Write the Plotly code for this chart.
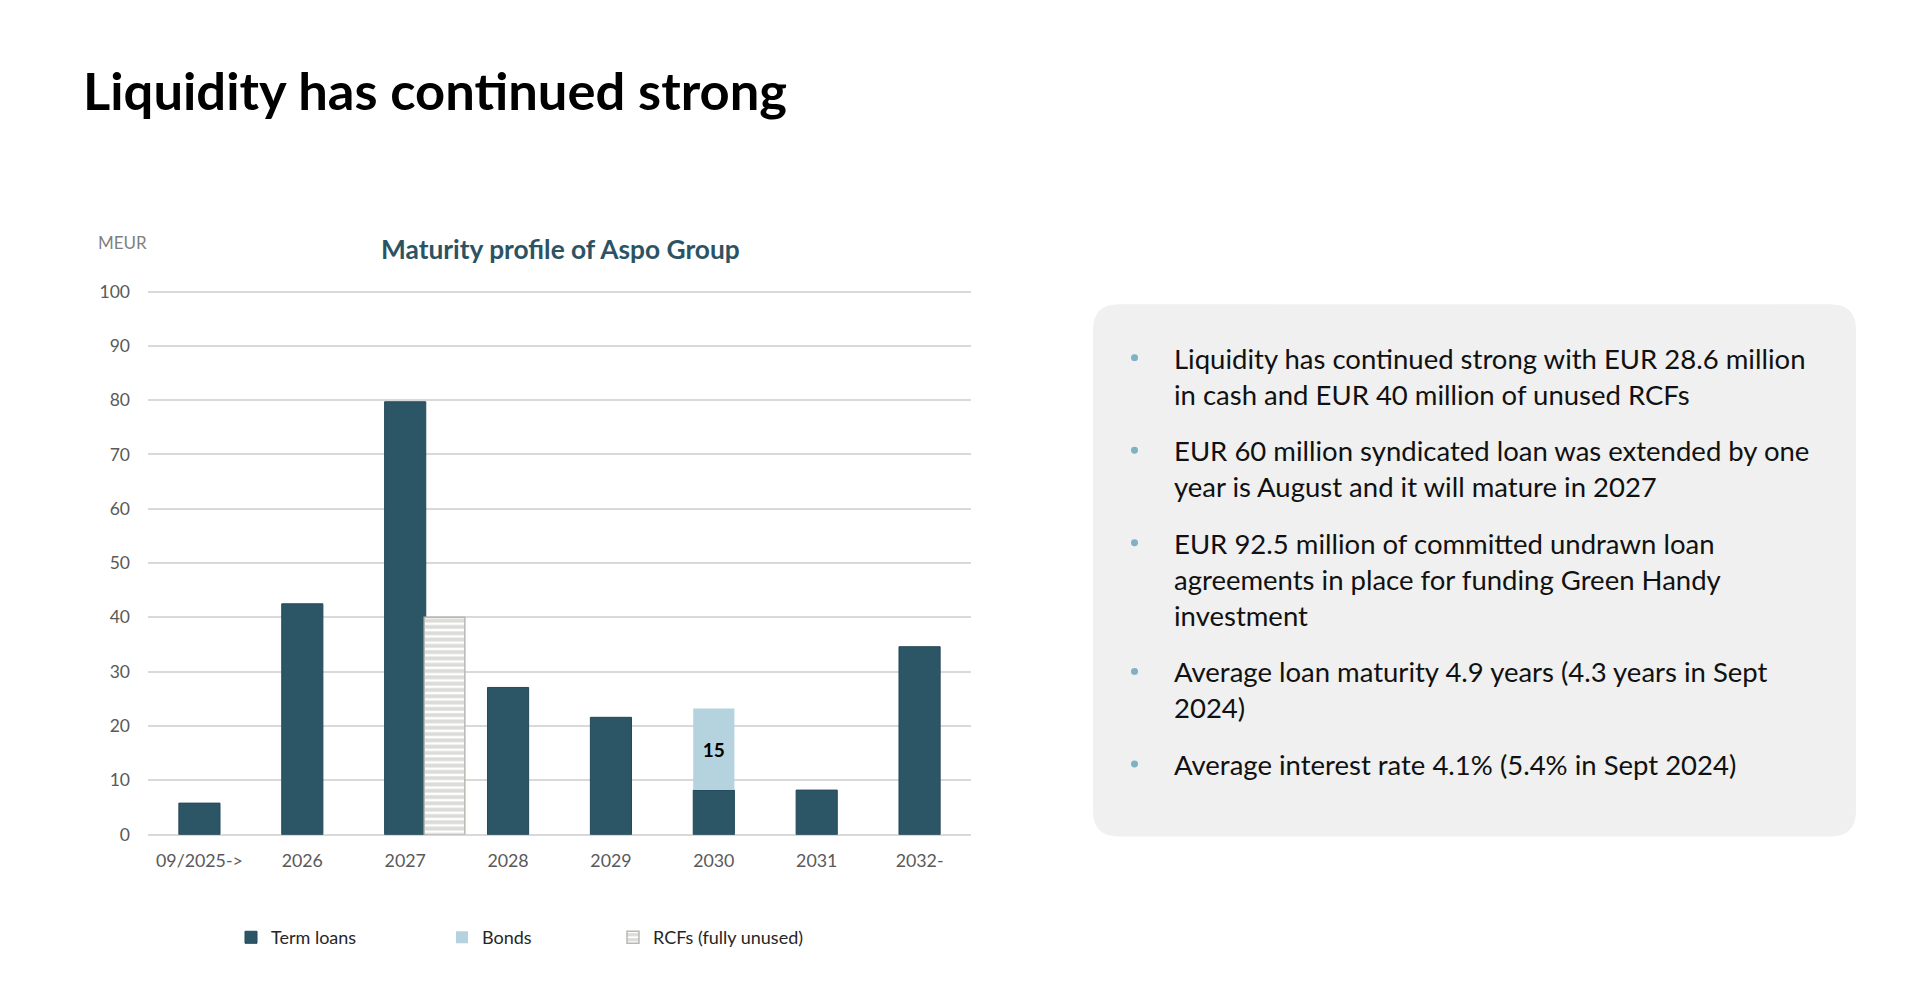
import plotly.graph_objects as go

# page is 1920x984, the html body keeps its default 8px margin
PAGE_W, PAGE_H, M = 1920, 984, 8
W, H = PAGE_W - 2 * M, PAGE_H - 2 * M

categories = ["09/2025->", "2026", "2027", "2028", "2029", "2030", "2031", "2032-"]
term_loans = [5.8, 42.5, 79.7, 27.1, 21.6, 8.2, 8.2, 34.6]
bonds = [None, None, None, None, None, 15, None, None]
rcfs = [None, None, 40, None, None, None, None, None]
y_ticks = list(range(0, 101, 10))

bullets = [
    ["Liquidity has continued strong with EUR 28.6 million",
     "in cash and EUR 40 million of unused RCFs"],
    ["EUR 60 million syndicated loan was extended by one",
     "year is August and it will mature in 2027"],
    ["EUR 92.5 million of committed undrawn loan",
     "agreements in place for funding Green Handy",
     "investment"],
    ["Average loan maturity 4.9 years (4.3 years in Sept",
     "2024)"],
    ["Average interest rate 4.1% (5.4% in Sept 2024)"],
]

FONT = "Lato"
DARK = "#2C5566"
LIGHT = "#B4D3DE"
HATCH = "#B8B8B3"
GREY_TXT = "#595959"


# page pixel -> paper coords
def px(x):
    return (x - M) / W


def py(y):
    return 1 - (y - M) / H


# plot area (page px)
PX0, PX1 = 148, 971
Y0, Y100, YMAX = 842.0, 288.0, 100.3
ytop = Y0 - YMAX * (Y0 - Y100) / 100

fig = go.Figure()

fig.add_trace(go.Bar(
    x=categories, y=term_loans, name="Term loans",
    offset=-0.2, width=0.4,
    marker=dict(color=DARK, line=dict(color="#24495A", width=1)),
    legend="legend",
))
fig.add_trace(go.Bar(
    x=categories, y=bonds, base=term_loans, name="Bonds",
    offset=-0.2, width=0.4,
    marker=dict(color=LIGHT, line=dict(color=LIGHT, width=0)),
    text=bonds, texttemplate="<b>%{text}</b>", textposition="inside",
    insidetextanchor="middle", textangle=0,
    textfont=dict(family=FONT, size=19, color="black"),
    legend="legend2",
))
fig.add_trace(go.Bar(
    x=categories, y=rcfs, name="RCFs (fully unused)",
    offset=0.185, width=0.395,
    marker=dict(color="white", line=dict(color=HATCH, width=1.5),
                pattern=dict(shape="-", fgcolor=HATCH, bgcolor="white",
                             size=6.3, solidity=0.62, fillmode="overlay")),
    legend="legend3",
))

# grey info box with rounded corners
x0, x1, y0, y1, r = 1093, 1856, 301, 844, 26
path = (f"M {px(x0 + r)} {py(y0)} L {px(x1 - r)} {py(y0)} "
        f"Q {px(x1)} {py(y0)} {px(x1)} {py(y0 + r)} "
        f"L {px(x1)} {py(y1 - r)} Q {px(x1)} {py(y1)} {px(x1 - r)} {py(y1)} "
        f"L {px(x0 + r)} {py(y1)} Q {px(x0)} {py(y1)} {px(x0)} {py(y1 - r)} "
        f"L {px(x0)} {py(y0 + r)} Q {px(x0)} {py(y0)} {px(x0 + r)} {py(y0)} Z")
fig.add_shape(type="path", path=path, xref="paper", yref="paper",
              fillcolor="#EFF0EF", line=dict(width=0), layer="below")

# bullet text
annotations = []
y = 356
line_step, bullet_gap = 36.8, 20.8
for lines in bullets:
    fig.add_shape(type="circle", xref="paper", yref="paper",
                  x0=px(1131), x1=px(1138), y0=py(y - 4), y1=py(y + 3),
                  fillcolor="#7FB0C4", line=dict(width=0))
    for ln in lines:
        annotations.append(dict(
            text=ln, x=px(1172), y=py(y), xref="paper", yref="paper",
            xanchor="left", yanchor="middle", showarrow=False,
            font=dict(family=FONT, size=27.5, color="#111111")))
        y += line_step
    y += bullet_gap

annotations += [
    dict(text="<b>Liquidity has continued strong</b>", x=px(80.5), y=py(82),
         xref="paper", yref="paper", xanchor="left", yanchor="middle",
         showarrow=False, font=dict(family=FONT, size=52.5, color="black")),
    dict(text="<b>Maturity profile of Aspo Group</b>", x=px(560), y=py(244.5),
         xref="paper", yref="paper", xanchor="center", yanchor="middle",
         showarrow=False, font=dict(family=FONT, size=26.3, color="#2C5364")),
    dict(text="MEUR", x=px(96), y=py(238.5), xref="paper", yref="paper",
         xanchor="left", yanchor="middle", showarrow=False,
         font=dict(family=FONT, size=17, color="#7F7F7F")),
]

legend_common = dict(orientation="h", yanchor="middle", xanchor="left",
                     y=py(947), bgcolor="rgba(0,0,0,0)",
                     font=dict(family=FONT, size=18, color="#262626"))

fig.update_layout(
    width=W, height=H,
    margin=dict(l=0, r=0, t=0, b=0),
    paper_bgcolor="white", plot_bgcolor="white",
    barmode="overlay",
    showlegend=True,
    annotations=annotations,
    font=dict(family=FONT),
    legend=dict(legend_common, x=px(231)),
    legend2=dict(legend_common, x=px(442)),
    legend3=dict(legend_common, x=px(613)),
    xaxis=dict(domain=[px(PX0), px(PX1)], range=[-0.5, 7.5],
               showgrid=False, showline=False, ticks="",
               tickfont=dict(family=FONT, size=17.8, color=GREY_TXT),
               ticklabelstandoff=14),
    yaxis=dict(domain=[py(Y0), py(ytop)], range=[0, YMAX],
               tickvals=y_ticks, showgrid=True, gridcolor="#D9D9D9",
               gridwidth=1.5, zeroline=True, zerolinecolor="#D9D9D9",
               zerolinewidth=1.5, showline=False, ticks="",
               tickfont=dict(family=FONT, size=17.5, color=GREY_TXT),
               ticklabelstandoff=17),
)

fig.write_html("out.html")
